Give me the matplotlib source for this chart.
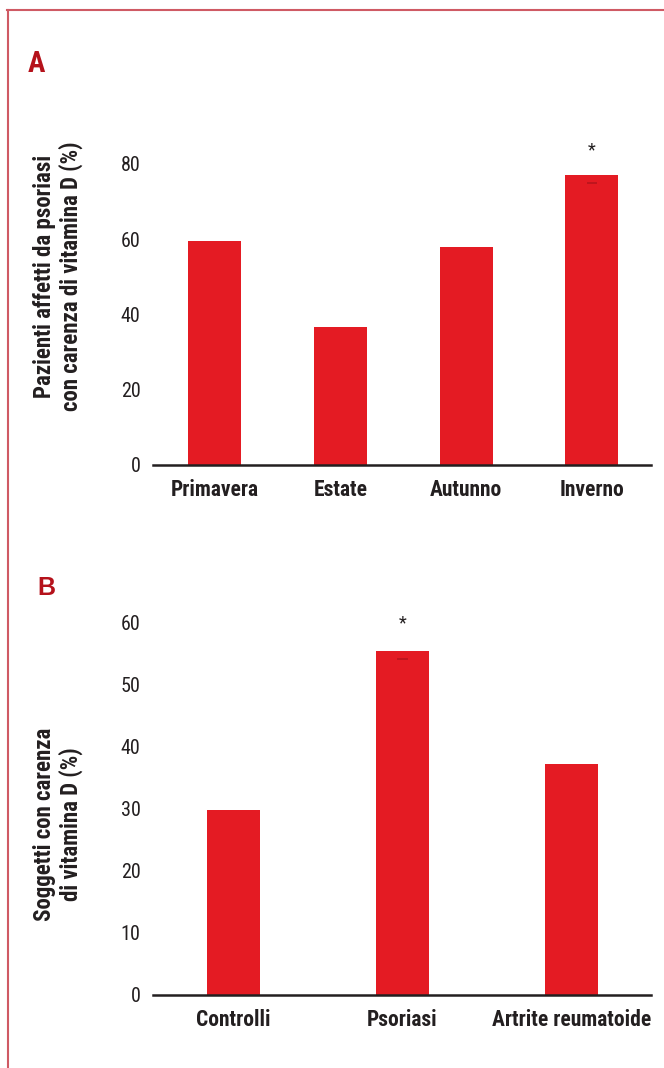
import matplotlib
matplotlib.use('Agg')
import matplotlib.pyplot as plt
from matplotlib.lines import Line2D

# panel A: patients with psoriasis and vitamin D deficiency by season
seasons = ['Primavera', 'Estate', 'Autunno', 'Inverno']
season_pct = [59.6, 36.8, 58.0, 77.2]
season_mark = [None, None, None, 75.0]
season_star = [False, False, False, True]

# panel B: subjects with vitamin D deficiency by group
groups = ['Controlli', 'Psoriasi', 'Artrite reumatoide']
group_pct = [29.8, 55.3, 37.1]
group_mark = [None, 54.0, None]
group_star = [False, True, False]

RED = '#e41b23'
DARK = '#231f20'
TITLE_RED = '#b5121b'
NARROW = ['Roboto Condensed', 'DejaVu Sans']

W, H = 664, 1068


def px_axes(fig, left, right, bottom, top):
	return fig.add_axes([left / W, 1 - bottom / H, (right - left) / W, (bottom - top) / H])


def bar_panel(ax, cats, vals, marks, stars, ymax, step, width, star_off, xlim):
	x = list(range(len(cats)))
	ax.bar(x, vals, width=width, color=RED, zorder=2)
	for i, m in enumerate(marks):
		if m is not None:
			ax.hlines(m, i - width * 0.1, i + width * 0.1, color='#b8141c', lw=1.2, zorder=3)
	for i, s in enumerate(stars):
		if s:
			ax.text(i, vals[i] + star_off, '*', ha='center', va='center', fontsize=13,
				color=DARK, family=NARROW, clip_on=False)
	ax.set_xlim(*xlim)
	ax.set_ylim(0, ymax)
	ax.set_yticks(range(0, ymax + 1, step))
	ax.set_xticks(x)
	ax.set_xticklabels(cats, fontsize=15.5, fontweight='bold', family=NARROW, color=DARK)
	for lab in ax.get_yticklabels():
		lab.set_fontsize(14.5)
		lab.set_family(NARROW)
		lab.set_color(DARK)
	ax.tick_params(axis='both', length=0)
	ax.tick_params(axis='y', pad=9)
	ax.tick_params(axis='x', pad=10)
	for sp in ['top', 'right', 'left']:
		ax.spines[sp].set_visible(False)
	ax.spines['bottom'].set_color(DARK)
	ax.spines['bottom'].set_linewidth(1.8)
	ax.spines['bottom'].set_zorder(4)
	ax.patch.set_alpha(0)


fig = plt.figure(figsize=(W / 100, H / 100), dpi=100)

# frame lines on top and left
fig.add_artist(Line2D([7 / W, 1], [1 - 10 / H, 1 - 10 / H], color='#cf5a64', lw=1.5))
fig.add_artist(Line2D([8 / W, 8 / W], [1 - 10 / H, 0], color='#cf5a64', lw=1.5))

ax_a = px_axes(fig, 153, 651, 465, 164)
bar_panel(ax_a, seasons, season_pct, season_mark, season_star, 80, 20, 0.42, 6.5, (-0.49, 3.47))

ax_b = px_axes(fig, 153, 651, 995, 622)
bar_panel(ax_b, groups, group_pct, group_mark, group_star, 60, 10, 0.315, 4.5, (-0.475, 2.47))

fig.text(28 / W, 1 - 72 / H, 'A', fontsize=21, fontweight='bold', family=NARROW,
	color=TITLE_RED, ha='left', va='baseline')
fig.text(37 / W, 1 - 595 / H, 'B', fontsize=18, fontweight='bold', family=['Liberation Sans', 'DejaVu Sans'],
	color=TITLE_RED, ha='left', va='baseline')

fig.text(58 / W, 1 - 276 / H, 'Pazienti affetti da psoriasi\ncon carenza di vitamina D (%)',
	rotation=90, ha='center', va='center', multialignment='center', fontsize=16.5,
	fontweight='bold', family=NARROW, color=DARK, linespacing=1.1)
fig.text(58 / W, 1 - 824 / H, 'Soggetti con carenza\ndi vitamina D (%)',
	rotation=90, ha='center', va='center', multialignment='center', fontsize=16.5,
	fontweight='bold', family=NARROW, color=DARK, linespacing=1.1)

fig.savefig('out.png', dpi=100, facecolor='white')
